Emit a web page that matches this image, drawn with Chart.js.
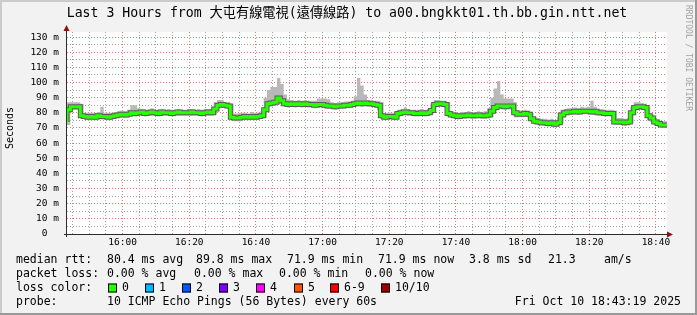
<!DOCTYPE html>
<html>
<head>
<meta charset="utf-8">
<script src="https://cdn.jsdelivr.net/npm/chart.js@4.4.0/dist/chart.umd.min.js"></script>
<style>
  html, body { margin: 0; padding: 0; background: #f2f2f2; }
  canvas { display: block; }
</style>
</head>
<body>
<canvas id="myChart" width="697" height="315"></canvas>
<script>
// minutes after 15:00, graph starts 15:43:19 and runs 3 hours at 1 minute steps
const startMinute = 43 + 19 / 60

const medianRtt = [
  74, 82, 84, 84, 84, 78, 77.5, 77, 77.5, 77,
  78, 77.5, 77.5, 77, 77.5, 78, 78.5, 79, 78.5, 79,
  80, 79.5, 80, 80.5, 79.5, 80, 80.5, 80, 79.5, 80.5,
  80, 80, 79.5, 80, 80.5, 80, 80, 80, 80.5, 80,
  80, 79.5, 80, 80.5, 80, 82.5, 85, 85.5, 85, 84.5,
  77, 76.5, 76.5, 77, 77.5, 77, 77.5, 77, 77.5, 78,
  82, 86, 86.5, 87, 89.8, 88, 86, 85.5, 86, 85.5,
  86, 85.5, 86, 85.5, 85.5, 85, 85.5, 85.5, 85, 84.5,
  84.5, 84, 84.5, 84.5, 85, 85, 85.5, 86, 86.5, 86,
  86.5, 86, 86, 85.5, 85, 78, 77, 77.5, 77.5, 77,
  79.5, 80, 80.5, 80, 80, 79.5, 79.5, 80, 79.5, 80,
  81.5, 85.5, 86, 86, 85.5, 79.5, 78.5, 78, 77.5, 78,
  78, 78.5, 78, 78, 78.5, 78, 78, 78.5, 81, 83.5,
  84.5, 84.5, 84, 84.5, 84.5, 80, 79, 79, 79.5, 79,
  76, 74.5, 74, 73.5, 73.5, 73, 73.5, 72.5, 73.5, 78.5,
  80, 80.5, 80.5, 81, 80.5, 81, 81, 81, 80.5, 81,
  80, 80, 79.5, 79.5, 79.5, 74, 74, 74, 73.5, 74,
  80, 83.5, 84, 84, 83.5, 78, 76.5, 74, 73, 71.9
]

const maxRtt = [
  84, 87, 87, 87, 87, 86, 80, 80, 80, 80,
  80.5, 84, 80, 80, 80, 80.5, 81, 81.5, 81, 82,
  85, 85, 83, 82.5, 82, 82, 83, 82, 82, 82.5,
  82, 82.5, 82, 82, 82.5, 82, 82, 82.5, 82.5, 82,
  82.5, 82, 82.5, 82.5, 82.5, 87, 88.5, 88.5, 87, 87,
  86, 79.5, 79.5, 80, 80, 79.5, 80.5, 80, 80, 81,
  90, 95, 97, 97, 103, 99, 92, 89, 88.5, 88,
  88.5, 88, 88.5, 88, 88, 88, 89.5, 89.5, 89.5, 89,
  87, 86.5, 87, 87, 87.5, 87.5, 88, 91, 103, 98,
  92, 88.5, 88.5, 88, 88, 87, 79.5, 80, 80, 80,
  82, 82.5, 83.5, 82.5, 82, 82, 82, 82.5, 82, 82.5,
  86, 88.5, 88.5, 88, 88, 87, 81, 80.5, 80, 80.5,
  80.5, 81, 80.5, 80.5, 81, 80.5, 81, 83, 90, 96,
  101, 92, 89.5, 89.5, 89.5, 87, 81.5, 81.5, 82, 81.5,
  80, 77, 76.5, 76, 76, 75.5, 76, 75, 77, 82,
  82.5, 83, 83, 83.5, 83, 84, 83.5, 84, 88, 84,
  82.5, 82.5, 82, 82, 82, 81.5, 76.5, 76.5, 76, 76.5,
  84, 87, 87, 86.5, 86, 84, 79, 76.5, 75.5, 74.5
]

const minRtt = [
  71, 72, 82, 82, 82, 76, 75.5, 75, 75.5, 75,
  76, 75.5, 75.5, 75, 75.5, 76, 76.5, 77, 76.5, 77,
  78, 77.5, 78, 78, 77.5, 78, 78, 78, 77.5, 78,
  78, 78, 77.5, 78, 78, 78, 78, 78, 78, 78,
  78, 77.5, 78, 78, 78, 79, 83, 83.5, 83, 82.5,
  75, 74.5, 74.5, 75, 75.5, 75, 75.5, 75, 75.5, 76,
  77, 84, 84.5, 85, 86, 85.5, 84, 83.5, 84, 83.5,
  84, 83.5, 84, 83.5, 83.5, 83, 83.5, 83.5, 83, 82.5,
  82.5, 82, 82.5, 82.5, 83, 83, 83.5, 84, 84.5, 84,
  84.5, 84, 84, 83.5, 82, 76, 75, 75.5, 75.5, 75,
  77, 78, 78.5, 78, 78, 77.5, 77.5, 78, 77.5, 78,
  79, 83.5, 84, 84, 83.5, 77.5, 76.5, 76, 75.5, 76,
  76, 76.5, 76, 76, 76.5, 76, 76, 76.5, 77, 81,
  82.5, 82.5, 82, 82.5, 82, 77, 77, 77, 77.5, 77,
  74, 72.5, 72, 71.5, 71.5, 71, 71.5, 70.5, 71.5, 73,
  78, 78.5, 78.5, 79, 78.5, 79, 79, 79, 78.5, 79,
  78, 78, 77.5, 77.5, 77.5, 72, 72, 72, 71.5, 72,
  73, 81.5, 82, 82, 81.5, 75, 74, 72, 71, 70
]

const xTickMinutes = [60, 80, 100, 120, 140, 160, 180, 200, 220]
const xTickLabels = ['16:00', '16:20', '16:40', '17:00', '17:20', '17:40', '18:00', '18:20', '18:40']
const yTickValues = [0, 10, 20, 30, 40, 50, 60, 70, 80, 90, 100, 110, 120, 130]
const yTickLabels = ['0  ', '10 m', '20 m', '30 m', '40 m', '50 m', '60 m', '70 m', '80 m', '90 m', '100 m', '110 m', '120 m', '130 m']

const lossLabels = ['0', '1', '2', '3', '4', '5', '6-9', '10/10']
const lossColors = ['#26ff00', '#00b8ff', '#0059ff', '#7e00ff', '#ff00ff', '#ff5500', '#ff0000', '#a10000']

const titleText = 'Last 3 Hours from 大屯有線電視(遠傳線路) to a00.bngkkt01.th.bb.gin.ntt.net'
const rttLegend = ['80.4 ms avg', '89.8 ms max', '71.9 ms min', '71.9 ms now', '3.8 ms sd', '21.3', 'am/s']
const lossLegend = ['0.00 % avg', '0.00 % max', '0.00 % min', '0.00 % now']
const probeText = '10 ICMP Echo Pings (56 Bytes) every 60s'
const dateText = 'Fri Oct 10 18:43:19 2025'

const mono = '"DejaVu Sans Mono", "Noto Sans CJK TC", monospace'

const toPoints = (values) => values
  .map((v, i) => ({ x: startMinute + i, y: v }))
  .concat([{ x: startMinute + values.length, y: values[values.length - 1] }])

const every = (from, to, step) => {
  const out = []
  for (let v = from; v <= to; v += step) out.push(v)
  return out
}

const smokepingLook = {
  id: 'smokepingLook',
  beforeDraw (chart) {
    const { ctx, chartArea: a } = chart
    ctx.save()
    ctx.fillStyle = '#f2f2f2'
    ctx.fillRect(0, 0, chart.width, chart.height)
    // 3d frame
    ctx.fillStyle = '#cbcbcb'
    ctx.fillRect(0, 0, chart.width, 2)
    ctx.fillRect(0, 0, 2, chart.height)
    ctx.fillStyle = '#999999'
    ctx.fillRect(0, chart.height - 2, chart.width, 2)
    ctx.fillRect(chart.width - 2, 0, 2, chart.height)
    ctx.fillStyle = '#ffffff'
    ctx.fillRect(a.left, a.top, a.right - a.left, a.bottom - a.top)
    ctx.restore()
  },
  afterDraw (chart) {
    const { ctx, chartArea: a } = chart
    ctx.save()

    // axes and arrows
    ctx.strokeStyle = '#2c2c2c'
    ctx.lineWidth = 1
    ctx.beginPath()
    ctx.moveTo(a.left - 0.5, a.bottom + 3)
    ctx.lineTo(a.left - 0.5, a.top - 2)
    ctx.moveTo(a.left - 3, a.bottom + 0.5)
    ctx.lineTo(a.right + 2, a.bottom + 0.5)
    ctx.stroke()
    ctx.fillStyle = '#8b1010'
    ctx.beginPath()
    ctx.moveTo(a.left - 0.5, a.top - 7)
    ctx.lineTo(a.left - 3.5, a.top - 1)
    ctx.lineTo(a.left + 2.5, a.top - 1)
    ctx.closePath()
    ctx.fill()
    ctx.beginPath()
    ctx.moveTo(a.right + 6, a.bottom + 0.5)
    ctx.lineTo(a.right, a.bottom - 2.5)
    ctx.lineTo(a.right, a.bottom + 3.5)
    ctx.closePath()
    ctx.fill()

    ctx.fillStyle = '#000'
    ctx.textBaseline = 'middle'

    // title
    ctx.font = '13.2px ' + mono
    ctx.textAlign = 'center'
    ctx.fillText(titleText, 347, 14)

    // y axis title
    ctx.save()
    ctx.font = '10px ' + mono
    ctx.translate(10, 128)
    ctx.rotate(-Math.PI / 2)
    ctx.fillText('Seconds', 0, 0)
    ctx.restore()

    // watermark
    ctx.save()
    ctx.font = '8px ' + mono
    ctx.fillStyle = '#a0a0a0'
    ctx.textAlign = 'left'
    ctx.translate(688, 5)
    ctx.rotate(Math.PI / 2)
    ctx.fillText('RRDTOOL / TOBI OETIKER', 0, 0)
    ctx.restore()

    // legend
    ctx.font = '11.5px ' + mono
    ctx.textAlign = 'left'
    ctx.fillText('median rtt:', 16, 260)
    const rttX = [107, 196, 287, 378, 469, 548, 604]
    rttLegend.forEach((t, i) => ctx.fillText(t, rttX[i], 260))

    ctx.fillText('packet loss:', 16, 274)
    const lossX = [107, 194, 279, 365]
    lossLegend.forEach((t, i) => ctx.fillText(t, lossX[i], 274))

    ctx.fillText('loss color:', 16, 288)
    const boxX = [108, 145, 182, 219, 256, 294, 330, 381]
    lossLabels.forEach((t, i) => {
      ctx.fillStyle = lossColors[i]
      ctx.fillRect(boxX[i], 283.5, 9, 9)
      ctx.strokeStyle = '#000'
      ctx.strokeRect(boxX[i] + 0.5, 284, 8, 8)
      ctx.fillStyle = '#000'
      ctx.fillText(t, boxX[i] + 14, 288)
    })

    ctx.fillText('probe:', 16, 302)
    ctx.fillText(probeText, 107, 302)
    ctx.textAlign = 'right'
    ctx.fillText(dateText, 681, 302)

    ctx.restore()
  }
}

const ctx = document.getElementById('myChart').getContext('2d')
new Chart(ctx, {
  type: 'line',
  data: {
    datasets: [
      {
        label: 'median',
        data: toPoints(medianRtt),
        borderColor: '#26ff00',
        borderWidth: 3,
        stepped: 'after',
        pointRadius: 0,
        fill: false,
        order: 0
      },
      {
        label: 'median edge',
        data: toPoints(medianRtt),
        borderColor: '#5c5c5c',
        borderWidth: 5,
        stepped: 'after',
        pointRadius: 0,
        fill: false,
        order: 1
      },
      {
        label: 'max',
        data: toPoints(maxRtt),
        borderColor: 'transparent',
        backgroundColor: '#b8b8b8',
        stepped: 'after',
        pointRadius: 0,
        fill: '+1',
        order: 2
      },
      {
        label: 'min',
        data: toPoints(minRtt),
        borderColor: 'transparent',
        stepped: 'after',
        pointRadius: 0,
        fill: false,
        order: 3
      }
    ]
  },
  options: {
    responsive: false,
    animation: false,
    devicePixelRatio: 1,
    layout: { padding: { left: 0, right: 30, top: 32, bottom: 0 } },
    plugins: { legend: { display: false }, tooltip: { enabled: false } },
    scales: {
      x: {
        type: 'linear',
        min: startMinute,
        max: startMinute + 180,
        afterBuildTicks: (s) => { s.ticks = every(45, 220, 5).map(v => ({ value: v })) },
        afterFit: (s) => { s.height = 81 },
        border: { display: false, dash: [1, 2] },
        grid: {
          drawTicks: false,
          color: (c) => xTickMinutes.includes(c.tick.value) ? '#d87878' : '#a0a0a0'
        },
        ticks: {
          autoSkip: false,
          maxRotation: 0,
          padding: 3,
          color: '#000',
          font: { family: mono, size: 9.5 },
          callback: (v) => {
            const i = xTickMinutes.indexOf(v)
            return i >= 0 ? xTickLabels[i] : ''
          }
        }
      },
      y: {
        min: 0,
        max: 133.33,
        afterBuildTicks: (s) => { s.ticks = every(0, 130, 5).map(v => ({ value: v })) },
        afterFit: (s) => { s.width = 67 },
        border: { display: false, dash: [1, 2] },
        grid: {
          drawTicks: false,
          color: (c) => c.tick.value === 0 ? 'transparent' : (yTickValues.includes(c.tick.value) ? '#d87878' : '#a0a0a0')
        },
        ticks: {
          autoSkip: false,
          padding: 8,
          color: '#000',
          font: { family: mono, size: 9.5 },
          callback: (v) => {
            const i = yTickValues.indexOf(v)
            return i >= 0 ? yTickLabels[i] : ''
          }
        }
      }
    }
  },
  plugins: [smokepingLook]
})
</script>
</body>
</html>
